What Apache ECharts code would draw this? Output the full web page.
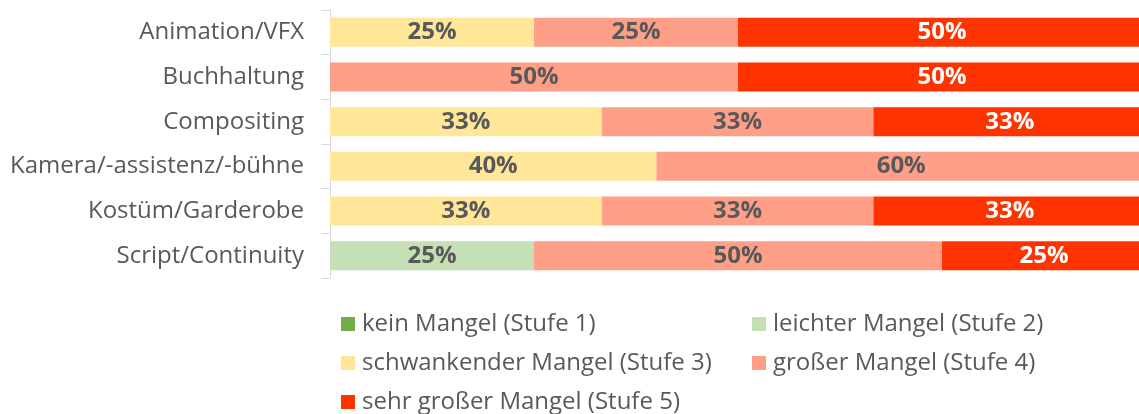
<!DOCTYPE html>
<html>
<head>
<meta charset="utf-8">
<script src="https://cdn.jsdelivr.net/npm/echarts@6/dist/echarts.min.js"></script>
<style>
  html, body { margin: 0; padding: 0; background: #fff; }
  #chart { width: 1139px; height: 414px; }
</style>
</head>
<body>
<div id="chart"></div>
<script>
const categories = ['Animation/VFX', 'Buchhaltung', 'Compositing', 'Kamera/-assistenz/-bühne', 'Kostüm/Garderobe', 'Script/Continuity'];

const seriesNames = ['kein Mangel (Stufe 1)', 'leichter Mangel (Stufe 2)', 'schwankender Mangel (Stufe 3)', 'großer Mangel (Stufe 4)', 'sehr großer Mangel (Stufe 5)'];

// percent per category
const stufe1 = [0, 0, 0, 0, 0, 0];
const stufe2 = [0, 0, 0, 0, 0, 25];
const stufe3 = [25, 0, 33.3, 40, 33.3, 0];
const stufe4 = [25, 50, 33.3, 60, 33.3, 50];
const stufe5 = [50, 50, 33.4, 0, 33.4, 25];

const colors = ['#70ad47', '#c5e0b4', '#ffe699', '#ff9f88', '#ff3300'];
const labelColors = ['#ffffff', '#595959', '#595959', '#595959', '#ffffff'];

// legend slots: two columns, filled row by row
const legendPos = [[341, 312], [752, 312], [341, 351], [752, 351], [341, 390]];

const font = '"Open Sans", "Noto Sans", sans-serif';

const chartInstance = echarts.init(document.getElementById('chart'), null, { renderer: 'canvas' });

const allData = [stufe1, stufe2, stufe3, stufe4, stufe5];

const series = allData.map((vals, i) => ({
  name: seriesNames[i],
  type: 'bar',
  stack: 'total',
  barWidth: 29,
  data: vals.map(v => (v === 0 ? null : v)),
  itemStyle: { color: colors[i] },
  label: {
    show: true,
    position: 'inside',
    formatter: p => Math.round(p.value) + '%',
    color: labelColors[i],
    fontFamily: font,
    fontWeight: 'bold',
    fontSize: 24
  }
}));

const legends = seriesNames.map((name, i) => ({
  data: [name],
  left: legendPos[i][0],
  top: legendPos[i][1],
  padding: 0,
  itemWidth: 14,
  itemHeight: 14,
  icon: 'rect',
  textStyle: { color: '#595959', fontFamily: font, fontSize: 24, lineHeight: 24, padding: [0, 0, 0, 2] }
}));

chartInstance.setOption({
  animation: false,
  color: colors,
  // plot runs past the right edge, as in the cropped original
  grid: { left: 330, top: 10, height: 268, width: 816, outerBoundsMode: 'none' },
  legend: legends,
  xAxis: {
    type: 'value',
    min: 0,
    max: 100,
    show: false
  },
  yAxis: {
    type: 'category',
    inverse: true,
    data: categories,
    axisLine: { lineStyle: { color: '#d9d9d9', width: 1 } },
    axisTick: { show: true, length: 9, lineStyle: { color: '#d9d9d9' } },
    axisLabel: { color: '#595959', fontFamily: font, fontSize: 24, margin: 26 }
  },
  series: series
});
</script>
</body>
</html>
